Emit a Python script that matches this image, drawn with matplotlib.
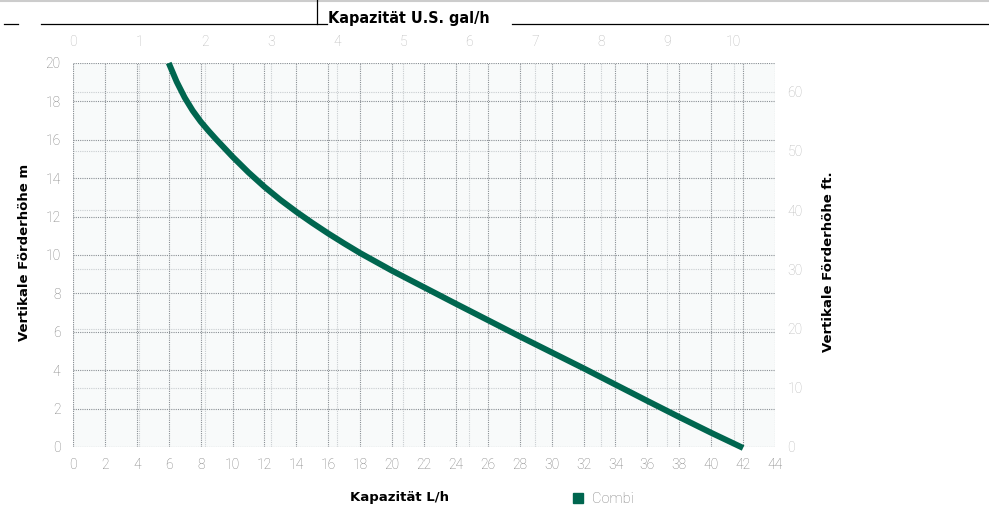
import matplotlib
matplotlib.use("Agg")
import matplotlib.pyplot as plt
from matplotlib.lines import Line2D

# Combi pump curve
flow_lph = [6, 6.5, 7, 7.5, 8, 8.5, 9, 10, 11, 12, 13, 14, 15, 16, 17, 18, 20,
            22, 24, 26, 28, 30, 32, 34, 36, 38, 40, 42]
head_m = [20, 19.02, 18.2, 17.52, 16.95, 16.46, 16.0, 15.12, 14.3, 13.55, 12.87,
          12.25, 11.67, 11.12, 10.6, 10.1, 9.18, 8.32, 7.46, 6.61, 5.76, 4.93,
          4.1, 3.25, 2.4, 1.56, 0.74, -0.05]

x_ticks = list(range(0, 45, 2))
y_ticks = list(range(0, 21, 2))
gal_ticks = list(range(0, 11))
ft_ticks = list(range(0, 61, 10))
L_PER_GAL = 4.14     # as drawn in the reference
FT_PER_M = 3.243

green = "#00664f"
W, H = 989, 512

fig = plt.figure(figsize=(W / 100, H / 100), dpi=100)

def fx(px):
    return px / W

def fy(py):
    return 1 - py / H

rect = [fx(73), fy(447), fx(775) - fx(73), fy(63) - fy(447)]
ax = fig.add_axes(rect)
axt = ax.twiny()
axr = ax.twinx()

# background and light grid on the twin axes, curve on top
axr.set_zorder(1)
axt.set_zorder(2)
ax.set_zorder(3)
ax.patch.set_visible(False)
axt.patch.set_visible(False)
axr.patch.set_visible(True)
axr.patch.set_facecolor("#f8fafa")

ax.set_xlim(0, 44)
ax.set_ylim(0, 20)
axt.set_xlim(0, 44 / L_PER_GAL)
axr.set_ylim(0, 20 * FT_PER_M)

ax.set_xticks(x_ticks)
ax.set_yticks(y_ticks)
axt.set_xticks(gal_ticks)
axr.set_yticks(ft_ticks)

ax.grid(True, color="#8a8f94", linestyle=(0, (1, 1)), linewidth=0.8)
axt.grid(True, axis="x", color="#c9cdd0", linestyle=(0, (1, 1)), linewidth=0.8)
axr.grid(True, axis="y", color="#c9cdd0", linestyle=(0, (1, 1)), linewidth=0.8)

for a in (ax, axt, axr):
    for s in a.spines.values():
        s.set_visible(False)
    a.tick_params(length=0)

ax.tick_params(axis="x", pad=8, colors="#7c7c7c")
ax.tick_params(axis="y", pad=9, colors="#7c7c7c")
axt.tick_params(axis="x", pad=10, colors="#b8b8b8")
axr.tick_params(axis="y", pad=9, colors="#b8b8b8")
for lab in (ax.get_xticklabels() + ax.get_yticklabels()
            + axt.get_xticklabels() + axr.get_yticklabels()):
    lab.set_family(["Roboto", "DejaVu Sans"])
    lab.set_fontsize(10)
    lab.set_fontweight("light")

ax.plot(flow_lph, head_m, color=green, linewidth=4.3, solid_capstyle="butt",
        solid_joinstyle="round", clip_on=False, zorder=5)

label_font = dict(family="DejaVu Sans", weight="bold", size=9.5, color="black")
fig.text(fx(399), fy(497), "Kapazität L/h", ha="center", va="center", **label_font)
fig.text(fx(25), fy(252), "Vertikale Förderhöhe m", rotation=90,
         ha="center", va="center", **label_font)
fig.text(fx(828), fy(262), "Vertikale Förderhöhe ft.", rotation=90,
         ha="center", va="center", **label_font)
fig.text(fx(328), fy(23), "Kapazität U.S. gal/h", ha="left", va="baseline",
         family="DejaVu Sans", weight="bold", size=11.5, stretch="condensed")

# header rules
fig.add_artist(Line2D([0, 1], [fy(1), fy(1)], color="#cccccc", linewidth=1.5))
for x0, x1 in [(4, 18), (41, 327), (512, 989)]:
    fig.add_artist(Line2D([fx(x0), fx(x1)], [fy(24), fy(24)], color="black", linewidth=0.9))
fig.add_artist(Line2D([fx(317), fx(317)], [fy(0), fy(24)], color="black", linewidth=0.9))

handle = Line2D([], [], color=green, marker="s", linestyle="none", markersize=7.5)
leg = fig.legend([handle], ["Combi"], loc="center left",
                 bbox_to_anchor=(fx(550), fy(499)), frameon=False,
                 handletextpad=0.0,
                 prop=dict(family=["Roboto", "DejaVu Sans"], weight="light", size=10.5))
for t in leg.get_texts():
    t.set_color("#7c7c7c")

fig.savefig("out.png", dpi=100)
